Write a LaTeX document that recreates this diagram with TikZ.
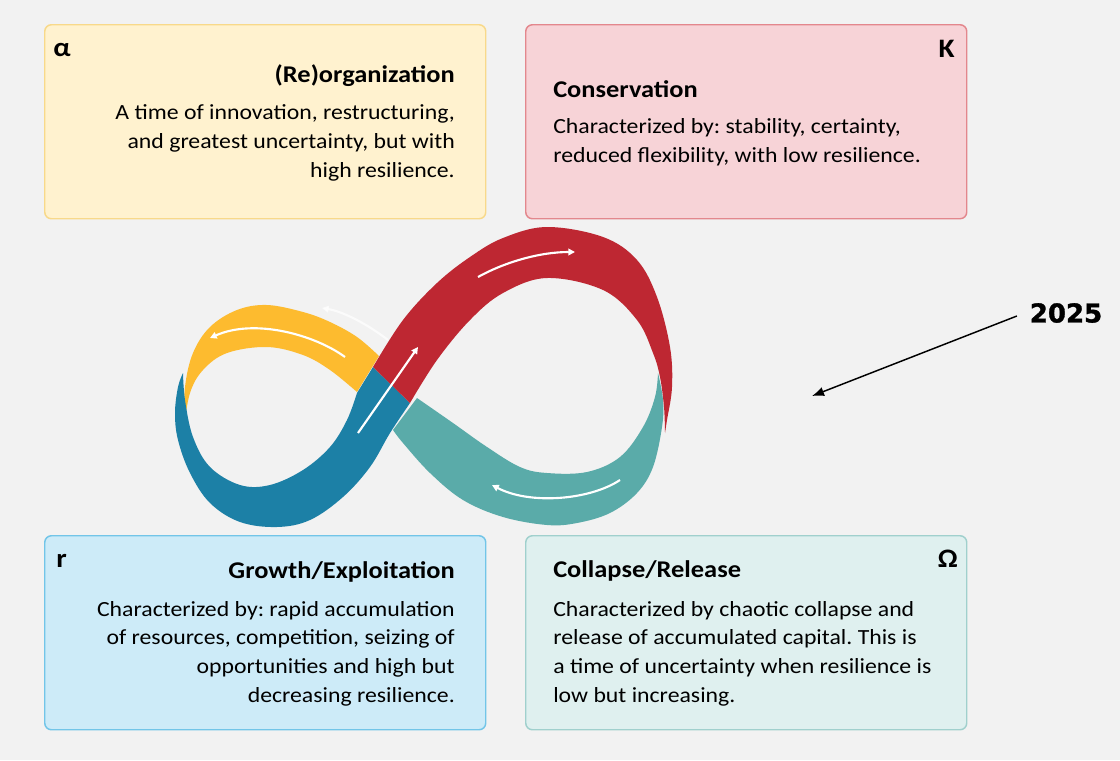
\documentclass[tikz,border=0pt]{standalone}
\usepackage{fontspec}
\usepackage{tikz}
\usepackage{xcolor}
\setmainfont[FakeStretch=1.1]{Carlito}
\newfontfamily\yearfont[BoldFeatures={FakeBold=1.2}]{DejaVu Sans}
\usetikzlibrary{arrows.meta, calc, positioning}
\frenchspacing
\definecolor{BgGray}{HTML}{F2F2F2}
\definecolor{Alpha_Fill}{HTML}{FFF2CF}
\definecolor{Alpha_Line}{HTML}{F8D98A}
\definecolor{K_Fill}{HTML}{F7D3D7}
\definecolor{K_Line}{HTML}{E3878D}
\definecolor{R_Fill}{HTML}{CDEBF8}
\definecolor{R_Line}{HTML}{72C5E8}
\definecolor{Omega_Fill}{HTML}{DFF0EF}
\definecolor{Omega_Line}{HTML}{A0D0CD}
\definecolor{Band_Red}{HTML}{BE2732}
\definecolor{Band_Yellow}{HTML}{FDBB2F}
\definecolor{Band_Blue}{HTML}{1C80A6}
\definecolor{Band_Teal}{HTML}{5AABA9}

\begin{document}
\begin{tikzpicture}[x=0.75pt, y=-0.75pt,
    phasebox/.style={draw, line width=1.1pt, rounded corners=5pt, anchor=north west,
        minimum width=330.75pt, minimum height=145.5pt, inner sep=0pt},
    greek/.style={font=\fontsize{20}{22}\selectfont\bfseries, inner sep=0pt},
    phasetitle/.style={font=\fontsize{18}{20}\selectfont\bfseries, inner sep=0pt},
    phasetext/.style={font=\fontsize{16.2}{21.4}\selectfont, inner sep=0pt},
    whitearrow/.style={white, line width=1.6pt, -{Triangle[length=5pt, width=5pt]}}]
    \fill[BgGray] (0,0) rectangle (1120,760);
    % the four phase boxes
    \node[phasebox, fill=Alpha_Fill, draw=Alpha_Line] (reorgBox) at (44,24) {};
    \node[phasebox, fill=K_Fill, draw=K_Line] (consBox) at (525,24) {};
    \node[phasebox, fill=R_Fill, draw=R_Line] (growBox) at (44,535) {};
    \node[phasebox, fill=Omega_Fill, draw=Omega_Line] (collBox) at (525,535) {};
    \node[greek, anchor=base west] (alpha) at (53,56) {α};
    \node[greek, anchor=base east] (kappa) at (955,57) {K};
    \node[greek, anchor=base west] (rr) at (56,567) {r};
    \node[greek, anchor=base east] (omega) at (958,567) {Ω};
    \node[phasetitle, anchor=base east] (reorgTitle) at (455,82) {(Re)organization};
    \node[phasetext, anchor=base east, align=right] (reorgText) at (455,177)
        {A time of innovation, restructuring,\\and greatest uncertainty, but with\\high resilience.};
    \node[phasetitle, anchor=base west] (consTitle) at (553,97) {Conservation};
    \node[phasetext, anchor=base west, align=left] (consText) at (553,162)
        {Characterized by: stability, certainty,\\reduced flexibility, with low resilience.};
    \node[phasetitle, anchor=base east] (growTitle) at (455,578) {Growth/Exploitation};
    \node[phasetext, anchor=base east, align=right] (growText) at (455,702)
        {Characterized by: rapid accumulation\\of resources, competition, seizing of\\opportunities and high but\\decreasing resilience.};
    \node[phasetitle, anchor=base west] (collTitle) at (553,577) {Collapse/Release};
    \node[phasetext, anchor=base west, align=left] (collText) at (553,702)
        {Characterized by chaotic collapse and\\release of accumulated capital. This is\\a time of uncertainty when resilience is\\low but increasing.};
    % the infinity ribbon
    \fill[Band_Yellow] plot[smooth, tension=0.6] coordinates {(379,356) (357,337) (330,322) (303,312)
        (267,305) (237,310) (210,327) (193,353) (185,387) (184,427)}
        -- plot[smooth, tension=0.6] coordinates {(184,427) (190,393) (203,370) (227,353) (267,347)
        (303,355) (330,370) (357,392)} -- cycle;
    \fill[Band_Teal] plot[smooth, tension=0.6] coordinates {(417,398) (453,423) (487,447) (520,467)
        (547,473) (587,472) (620,457) (643,427) (655,397) (658,373)}
        -- plot[smooth, tension=0.6] coordinates {(658,373) (663,400) (662,427) (653,467) (637,493)
        (610,513) (577,523) (547,525) (503,517) (463,500) (430,473) (403,443) (393,430)} -- cycle;
    \fill[Band_Blue] (357,393) -- (373,367)
        -- plot[smooth, tension=0.6] coordinates {(410,403) (390,433) (370,467) (343,497) (310,520)
        (277,527) (240,522) (210,503) (190,473) (178,440) (175,413) (178,387) (183,373)}
        -- plot[smooth, tension=0.6] coordinates {(183,373) (185,400) (193,437) (210,467) (240,485)
        (270,485) (303,470) (330,447) (347,420) (357,393)} -- cycle;
    \fill[Band_Red] plot[smooth, tension=0.6] coordinates {(373,367) (403,320) (437,283) (470,257)
        (503,238) (547,227) (603,237) (637,260) (657,297) (670,347) (672,387) (667,420) (665,433)}
        -- plot[smooth, tension=0.6] coordinates {(665,433) (664,407) (660,377) (653,353) (637,320)
        (603,290) (547,278) (503,293) (470,320) (437,360) (410,403)} -- cycle;
    % white arrows along the loop
    \draw[whitearrow] (478,277) .. controls (505,262) and (540,252) .. (575,252);
    \draw[whitearrow] (358,433) -- (418,347);
    \draw[whitearrow] (345,357) .. controls (315,335) and (255,318) .. (210,338);
    \draw[whitearrow, opacity=0.7] (388,340) .. controls (370,326) and (345,312) .. (322,308);
    \draw[whitearrow] (620,480) .. controls (590,500) and (530,505) .. (492,485);
    % the year marker
    \node[font=\yearfont\fontsize{19.5}{22}\selectfont\bfseries, inner sep=2pt] (year) at (1066,313) {2025};
    \coordinate (hit) at (812,396);
    \draw[black, line width=1.1pt, -{Latex[length=9pt, width=7pt]}] (year.west) ++(-10,3) -- (hit);
\end{tikzpicture}
\end{document}
